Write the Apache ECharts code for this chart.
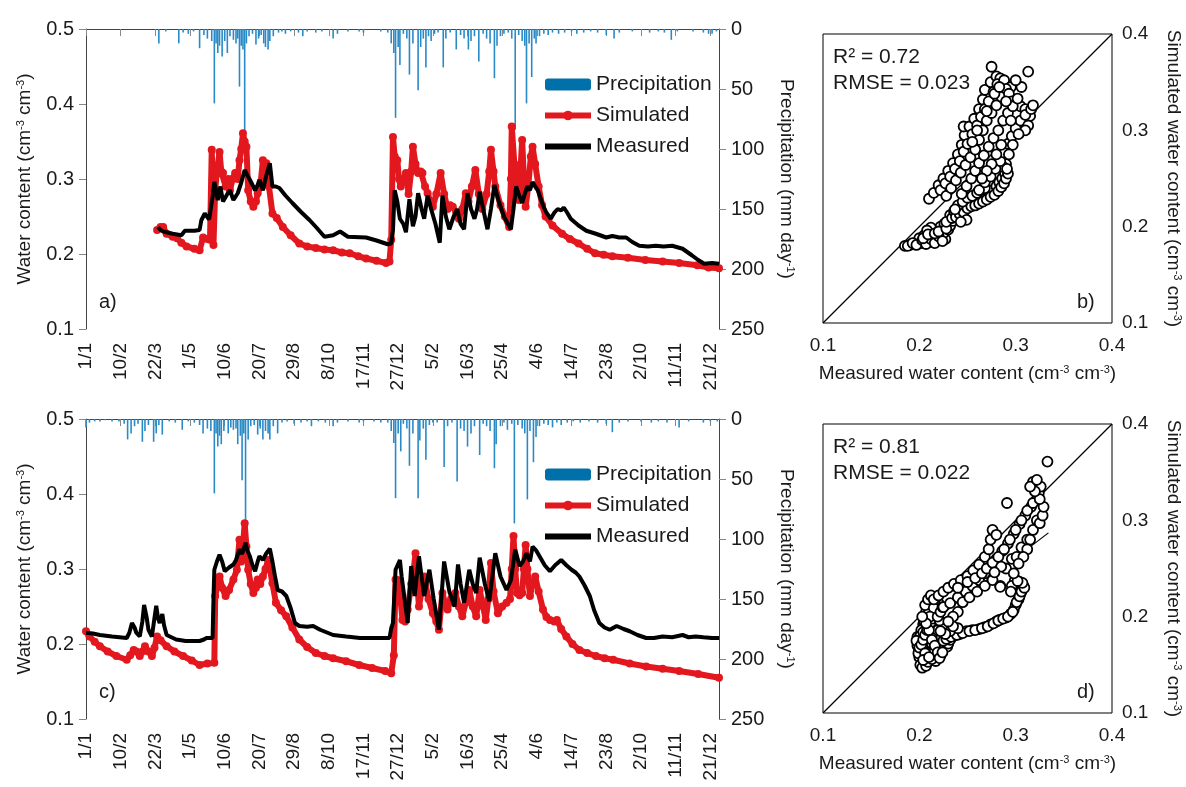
<!DOCTYPE html>
<html>
<head>
<meta charset="utf-8">
<script src="https://cdn.jsdelivr.net/npm/echarts@6/dist/echarts.min.js"></script>
<style>
  html, body { margin: 0; padding: 0; background: #fff; }
  #chart { width: 1186px; height: 787px; }
</style>
</head>
<body>
<div id="chart"></div>
<script>
// days since 1/1 of the first year, tick every 40 days
const tickDays = [0, 40, 80, 120, 160, 200, 240, 280, 320, 360, 400, 440, 480, 520, 560, 600, 640, 680, 720];
const dateLabels = ['1/1', '10/2', '22/3', '1/5', '10/6', '20/7', '29/8', '8/10', '17/11', '27/12',
	'5/2', '16/3', '25/4', '4/6', '14/7', '23/8', '2/10', '11/11', '21/12'];

// panel a : [day, mm]
const precipA = [
	[84, 12], [92, 2], [107, 12], [112, 3], [118, 4], [124, 2], [131, 16], [136, 5], [140, 8], [145, 10],
	[148, 62], [150, 12], [152, 20], [154, 14], [157, 23], [160, 10], [163, 20], [166, 6], [170, 9], [173, 12],
	[175, 8], [177, 48], [179, 14], [181, 17], [183, 87], [185, 12], [188, 6], [192, 4], [196, 13], [199, 8],
	[202, 5], [205, 12], [207, 15], [210, 17], [212, 10], [216, 6], [222, 3], [226, 2], [230, 4], [236, 2],
	[245, 3], [250, 6], [255, 2], [265, 3], [272, 2], [285, 8], [290, 4], [302, 2], [315, 2], [320, 3],
	[340, 2], [348, 3], [352, 12], [355, 20], [357, 74], [360, 15], [362, 30], [366, 4], [370, 8], [373, 38],
	[377, 12], [383, 51], [386, 15], [389, 8], [392, 32], [395, 6], [398, 10], [402, 4], [406, 3], [412, 32],
	[415, 8], [420, 3], [427, 17], [432, 5], [436, 8], [441, 17], [444, 10], [448, 6], [453, 27], [458, 4],
	[462, 8], [466, 12], [471, 41], [474, 14], [478, 6], [482, 4], [487, 3], [491, 8], [495, 84], [499, 5],
	[503, 10], [506, 14], [508, 62], [511, 12], [514, 40], [517, 8], [519, 12], [523, 6], [528, 4], [533, 5],
	[538, 3], [545, 4], [552, 3], [560, 2], [566, 4], [574, 3], [582, 2], [590, 3], [600, 5], [609, 8],
	[615, 3], [630, 2], [650, 3], [660, 2], [667, 3], [675, 9], [682, 2], [700, 2], [712, 3], [718, 4],
	[722, 4], [727, 2]
];
const measuredA = [
	[83, 0.236], [86, 0.232], [89, 0.230], [100, 0.227], [110, 0.225], [114, 0.231], [125, 0.231], [131, 0.232],
	[133, 0.245], [137, 0.254], [142, 0.246], [146, 0.276], [148, 0.296], [152, 0.272], [155, 0.290], [158, 0.270],
	[160, 0.268], [163, 0.280], [166, 0.285], [170, 0.272], [175, 0.281], [179, 0.295], [183, 0.312], [186, 0.305],
	[189, 0.299], [195, 0.285], [198, 0.292], [200, 0.299], [204, 0.285], [208, 0.305], [212, 0.321], [215, 0.290],
	[219, 0.290], [223, 0.288], [230, 0.278], [238, 0.268], [248, 0.256], [258, 0.245], [266, 0.235], [275, 0.223],
	[285, 0.225], [293, 0.230], [302, 0.223], [323, 0.222], [335, 0.218], [348, 0.213], [352, 0.214], [354, 0.232],
	[356, 0.285], [359, 0.270], [362, 0.247], [366, 0.240], [369, 0.229], [373, 0.273], [377, 0.237], [380, 0.250],
	[383, 0.281], [387, 0.260], [390, 0.247], [394, 0.278], [398, 0.260], [403, 0.240], [408, 0.215], [411, 0.278],
	[415, 0.250], [419, 0.233], [424, 0.250], [428, 0.260], [432, 0.240], [436, 0.233], [440, 0.281], [444, 0.260],
	[448, 0.247], [451, 0.260], [454, 0.283], [458, 0.260], [463, 0.233], [467, 0.260], [471, 0.292], [476, 0.270],
	[482, 0.250], [490, 0.233], [493, 0.260], [496, 0.290], [499, 0.280], [503, 0.268], [506, 0.280], [509, 0.290],
	[512, 0.285], [515, 0.296], [518, 0.290], [521, 0.285], [524, 0.275], [527, 0.265], [531, 0.255], [536, 0.247],
	[540, 0.255], [544, 0.260], [548, 0.258], [551, 0.262], [555, 0.255], [559, 0.247], [568, 0.238], [577, 0.231],
	[588, 0.227], [600, 0.222], [607, 0.224], [615, 0.222], [623, 0.222], [630, 0.216], [638, 0.211], [648, 0.210],
	[657, 0.211], [666, 0.210], [676, 0.211], [688, 0.207], [699, 0.198], [706, 0.192], [713, 0.187], [722, 0.188],
	[730, 0.187]
];
const simulatedA = [
	[82, 0.232], [86, 0.236], [89, 0.236], [93, 0.227], [100, 0.223], [105, 0.221], [110, 0.215], [116, 0.210],
	[125, 0.207], [131, 0.205], [135, 0.222], [140, 0.220], [143, 0.219], [145, 0.339], [146, 0.300], [147, 0.212],
	[149, 0.285], [151, 0.310], [154, 0.336], [156, 0.310], [158, 0.308], [161, 0.290], [164, 0.300], [166, 0.285],
	[169, 0.300], [172, 0.308], [175, 0.300], [177, 0.325], [179, 0.340], [181, 0.361], [183, 0.350], [185, 0.343],
	[187, 0.285], [190, 0.270], [193, 0.263], [196, 0.270], [198, 0.281], [201, 0.290], [204, 0.325], [206, 0.320],
	[208, 0.321], [211, 0.290], [215, 0.254], [220, 0.248], [227, 0.236], [236, 0.225], [246, 0.214], [255, 0.210],
	[265, 0.208], [275, 0.206], [285, 0.205], [295, 0.202], [304, 0.201], [314, 0.197], [323, 0.194], [335, 0.191],
	[346, 0.188], [350, 0.190], [352, 0.219], [354, 0.356], [356, 0.330], [359, 0.325], [361, 0.300], [363, 0.290],
	[366, 0.300], [369, 0.308], [372, 0.280], [375, 0.310], [377, 0.343], [380, 0.320], [383, 0.308], [386, 0.310],
	[388, 0.308], [391, 0.290], [394, 0.281], [397, 0.270], [400, 0.263], [404, 0.280], [409, 0.308], [413, 0.280],
	[417, 0.260], [420, 0.265], [423, 0.263], [427, 0.255], [430, 0.247], [434, 0.260], [438, 0.281], [441, 0.270],
	[445, 0.290], [449, 0.312], [453, 0.280], [457, 0.260], [462, 0.280], [465, 0.310], [467, 0.339], [470, 0.310],
	[472, 0.290], [478, 0.265], [483, 0.250], [488, 0.236], [490, 0.300], [491, 0.370], [494, 0.320], [497, 0.285],
	[499, 0.272], [501, 0.310], [503, 0.352], [505, 0.300], [507, 0.263], [510, 0.290], [513, 0.330], [515, 0.343],
	[518, 0.320], [522, 0.290], [526, 0.265], [530, 0.250], [538, 0.238], [549, 0.227], [558, 0.220], [568, 0.214],
	[578, 0.207], [587, 0.201], [597, 0.199], [607, 0.197], [625, 0.195], [645, 0.192], [665, 0.190], [684, 0.188],
	[705, 0.185], [718, 0.182], [730, 0.181]
];

// panel c
const precipC = [
	[0, 7], [4, 3], [10, 2], [16, 2], [22, 1], [30, 2], [38, 2], [44, 4], [48, 17], [52, 12],
	[56, 6], [60, 4], [65, 19], [68, 10], [72, 5], [78, 19], [81, 12], [84, 5], [88, 13], [96, 2],
	[103, 3], [111, 9], [118, 2], [125, 3], [131, 5], [135, 12], [140, 8], [144, 10], [148, 62], [150, 12],
	[152, 23], [154, 14], [156, 21], [159, 10], [164, 12], [167, 7], [170, 9], [173, 8], [175, 21], [178, 14],
	[180, 51], [182, 12], [184, 84], [187, 17], [190, 6], [194, 5], [198, 13], [201, 8], [204, 17], [207, 10],
	[210, 12], [212, 17], [216, 6], [221, 12], [226, 3], [232, 2], [240, 4], [248, 3], [255, 2], [260, 6],
	[268, 2], [276, 3], [285, 6], [290, 3], [302, 2], [315, 3], [320, 2], [332, 2], [340, 3], [348, 3],
	[352, 10], [355, 20], [357, 66], [360, 12], [363, 27], [366, 4], [370, 8], [373, 39], [377, 12], [383, 66],
	[385, 18], [389, 8], [392, 34], [396, 5], [400, 3], [405, 3], [413, 40], [417, 6], [422, 3], [428, 52],
	[432, 8], [436, 10], [440, 23], [444, 12], [448, 6], [454, 30], [458, 4], [462, 6], [466, 10], [471, 41],
	[473, 21], [478, 6], [482, 3], [486, 9], [491, 4], [494, 87], [498, 5], [503, 8], [506, 12], [509, 67],
	[512, 10], [516, 36], [519, 15], [523, 6], [528, 4], [533, 5], [538, 7], [543, 3], [548, 5], [555, 3],
	[562, 2], [570, 3], [580, 2], [590, 3], [600, 4], [607, 11], [615, 3], [625, 2], [640, 2], [652, 3],
	[660, 2], [670, 3], [684, 7], [695, 2], [712, 3], [720, 2], [728, 2]
];
const measuredC = [
	[0, 0.215], [8, 0.214], [16, 0.212], [30, 0.210], [47, 0.208], [50, 0.215], [53, 0.228], [56, 0.222],
	[58, 0.215], [62, 0.210], [65, 0.230], [67, 0.252], [70, 0.235], [72, 0.219], [76, 0.210], [79, 0.235],
	[81, 0.251], [83, 0.235], [85, 0.228], [88, 0.240], [90, 0.225], [93, 0.212], [104, 0.206], [115, 0.204],
	[131, 0.204], [136, 0.206], [139, 0.208], [146, 0.208], [147, 0.260], [148, 0.299], [151, 0.310], [154, 0.319],
	[157, 0.310], [160, 0.297], [165, 0.302], [170, 0.306], [173, 0.312], [177, 0.326], [180, 0.320], [184, 0.335],
	[186, 0.325], [189, 0.317], [192, 0.305], [195, 0.297], [198, 0.310], [200, 0.317], [204, 0.312], [208, 0.321],
	[212, 0.327], [215, 0.310], [218, 0.290], [221, 0.272], [226, 0.270], [231, 0.264], [236, 0.248], [241, 0.228],
	[246, 0.224], [255, 0.223], [262, 0.224], [270, 0.219], [285, 0.212], [300, 0.210], [316, 0.208], [335, 0.208],
	[350, 0.208], [352, 0.221], [354, 0.228], [357, 0.299], [362, 0.312], [364, 0.290], [367, 0.264], [371, 0.228],
	[375, 0.304], [379, 0.264], [384, 0.317], [387, 0.290], [390, 0.264], [396, 0.299], [401, 0.260], [407, 0.219],
	[413, 0.310], [419, 0.270], [425, 0.250], [429, 0.306], [432, 0.280], [436, 0.255], [442, 0.299], [446, 0.280],
	[450, 0.268], [454, 0.315], [460, 0.280], [465, 0.257], [472, 0.321], [478, 0.290], [485, 0.272], [490, 0.285],
	[495, 0.326], [500, 0.304], [504, 0.310], [508, 0.321], [512, 0.310], [515, 0.330], [519, 0.325], [523, 0.317],
	[529, 0.305], [535, 0.297], [541, 0.305], [548, 0.312], [554, 0.305], [560, 0.299], [565, 0.295], [569, 0.290],
	[575, 0.278], [581, 0.264], [586, 0.245], [592, 0.228], [598, 0.222], [604, 0.219], [612, 0.224], [620, 0.220],
	[627, 0.217], [636, 0.212], [646, 0.208], [655, 0.208], [665, 0.210], [676, 0.209], [688, 0.212], [695, 0.209],
	[703, 0.210], [712, 0.209], [722, 0.208], [730, 0.208]
];
const simulatedC = [
	[0, 0.217], [4, 0.210], [10, 0.203], [16, 0.197], [25, 0.190], [35, 0.184], [47, 0.179], [51, 0.185],
	[55, 0.192], [58, 0.190], [62, 0.184], [65, 0.190], [68, 0.197], [72, 0.190], [76, 0.184], [79, 0.195],
	[82, 0.210], [86, 0.205], [93, 0.197], [102, 0.190], [112, 0.184], [122, 0.178], [131, 0.172], [140, 0.174],
	[148, 0.175], [149, 0.264], [152, 0.280], [154, 0.290], [157, 0.275], [161, 0.264], [165, 0.272], [170, 0.286],
	[174, 0.299], [177, 0.339], [179, 0.310], [181, 0.330], [183, 0.361], [185, 0.330], [187, 0.299], [190, 0.280],
	[193, 0.268], [196, 0.275], [198, 0.286], [201, 0.280], [204, 0.290], [207, 0.300], [210, 0.312], [212, 0.300],
	[215, 0.281], [219, 0.255], [225, 0.245], [231, 0.237], [238, 0.222], [246, 0.206], [255, 0.196], [265, 0.188],
	[275, 0.184], [285, 0.181], [300, 0.177], [315, 0.172], [330, 0.168], [345, 0.164], [352, 0.161], [355, 0.185],
	[357, 0.286], [360, 0.285], [362, 0.268], [365, 0.232], [368, 0.230], [371, 0.246], [375, 0.280], [378, 0.300],
	[380, 0.321], [382, 0.280], [384, 0.250], [387, 0.270], [390, 0.290], [395, 0.260], [400, 0.241], [404, 0.230],
	[407, 0.219], [411, 0.268], [414, 0.255], [417, 0.246], [421, 0.260], [426, 0.268], [430, 0.250], [434, 0.237],
	[438, 0.255], [442, 0.272], [446, 0.250], [450, 0.237], [454, 0.272], [458, 0.250], [461, 0.232], [464, 0.260],
	[467, 0.308], [470, 0.270], [475, 0.241], [480, 0.250], [485, 0.255], [489, 0.260], [491, 0.300], [493, 0.344],
	[495, 0.300], [497, 0.268], [500, 0.265], [503, 0.268], [505, 0.300], [507, 0.332], [509, 0.300], [512, 0.264],
	[515, 0.280], [518, 0.290], [522, 0.270], [527, 0.246], [531, 0.236], [535, 0.232], [540, 0.230], [543, 0.232],
	[548, 0.220], [554, 0.210], [561, 0.200], [569, 0.192], [578, 0.188], [588, 0.184], [598, 0.181], [608, 0.179],
	[627, 0.174], [646, 0.170], [665, 0.167], [684, 0.164], [706, 0.160], [730, 0.155]
];

// scatter b : [measured, simulated]
const scatterB = [
	[0.185, 0.180], [0.19, 0.181], [0.195, 0.182], [0.198, 0.184], [0.202, 0.183], [0.206, 0.185], [0.21, 0.184],
	[0.214, 0.186], [0.218, 0.185], [0.222, 0.187], [0.227, 0.187], [0.2, 0.188], [0.205, 0.191], [0.21, 0.19],
	[0.214, 0.194], [0.218, 0.197], [0.222, 0.2], [0.226, 0.203], [0.212, 0.199], [0.208, 0.196], [0.225, 0.193],
	[0.23, 0.197], [0.232, 0.201], [0.235, 0.206], [0.232, 0.212],
	[0.188, 0.18], [0.193, 0.183], [0.197, 0.181], [0.203, 0.186], [0.207, 0.182], [0.212, 0.187], [0.216, 0.183],
	[0.22, 0.19], [0.224, 0.185], [0.204, 0.188], [0.209, 0.192], [0.216, 0.193], [0.22, 0.195], [0.228, 0.198],
	[0.228, 0.205], [0.234, 0.209], [0.24, 0.214], [0.236, 0.216], [0.244, 0.219], [0.248, 0.222], [0.252, 0.225],
	[0.256, 0.227], [0.26, 0.229], [0.264, 0.231], [0.268, 0.234], [0.272, 0.236], [0.276, 0.238], [0.28, 0.242],
	[0.283, 0.246], [0.286, 0.25], [0.289, 0.255], [0.29, 0.265], [0.287, 0.262],
	[0.238, 0.21], [0.242, 0.213], [0.246, 0.215], [0.249, 0.207], [0.25, 0.219], [0.254, 0.221], [0.258, 0.222],
	[0.262, 0.224], [0.266, 0.226], [0.27, 0.228], [0.274, 0.231], [0.278, 0.233], [0.282, 0.237], [0.285, 0.241],
	[0.288, 0.245], [0.29, 0.25], [0.292, 0.255], [0.291, 0.26], [0.24, 0.222], [0.245, 0.226], [0.25, 0.23],
	[0.255, 0.232], [0.26, 0.235], [0.264, 0.238], [0.268, 0.24], [0.243, 0.205], [0.237, 0.218],
	[0.21, 0.229], [0.215, 0.235], [0.22, 0.243], [0.225, 0.25], [0.23, 0.258], [0.235, 0.266], [0.24, 0.275],
	[0.244, 0.285], [0.247, 0.295], [0.246, 0.304], [0.252, 0.304], [0.257, 0.312], [0.262, 0.322], [0.266, 0.332],
	[0.268, 0.342], [0.274, 0.35], [0.28, 0.356], [0.275, 0.366], [0.284, 0.354],
	[0.222, 0.238], [0.227, 0.245], [0.232, 0.252], [0.237, 0.26], [0.242, 0.268], [0.246, 0.278], [0.25, 0.286],
	[0.255, 0.296], [0.26, 0.305], [0.264, 0.314], [0.268, 0.322], [0.272, 0.33], [0.277, 0.34], [0.281, 0.348],
	[0.288, 0.352], [0.295, 0.345], [0.305, 0.325], [0.31, 0.322], [0.315, 0.315],
	[0.228, 0.232], [0.233, 0.24], [0.238, 0.248], [0.243, 0.256], [0.248, 0.264], [0.253, 0.272], [0.258, 0.28],
	[0.262, 0.29], [0.266, 0.3], [0.27, 0.31], [0.275, 0.318], [0.28, 0.326], [0.285, 0.335], [0.29, 0.343],
	[0.293, 0.338], [0.296, 0.33],
	[0.244, 0.234], [0.249, 0.242], [0.254, 0.25], [0.258, 0.258], [0.262, 0.266], [0.267, 0.274], [0.272, 0.283],
	[0.277, 0.292], [0.282, 0.3], [0.287, 0.31], [0.292, 0.318], [0.297, 0.325], [0.302, 0.333], [0.306, 0.345],
	[0.3, 0.352],
	[0.262, 0.238], [0.268, 0.246], [0.274, 0.252], [0.279, 0.26], [0.284, 0.268], [0.288, 0.277], [0.292, 0.286],
	[0.296, 0.294], [0.3, 0.302], [0.305, 0.31], [0.31, 0.316], [0.316, 0.322], [0.318, 0.326], [0.313, 0.305],
	[0.31, 0.3], [0.303, 0.296], [0.297, 0.285], [0.293, 0.275], [0.313, 0.361],
	[0.255, 0.288], [0.26, 0.3], [0.27, 0.32], [0.278, 0.338], [0.283, 0.345], [0.29, 0.33], [0.295, 0.31],
	[0.285, 0.285], [0.28, 0.275], [0.275, 0.265], [0.27, 0.258], [0.265, 0.25]
];

// scatter d
const scatterD = [
	[0.205, 0.152], [0.208, 0.156], [0.204, 0.16], [0.2, 0.165], [0.198, 0.17], [0.2, 0.175], [0.198, 0.179],
	[0.202, 0.182], [0.205, 0.178], [0.208, 0.17], [0.21, 0.165], [0.212, 0.16], [0.215, 0.158], [0.218, 0.159],
	[0.22, 0.162], [0.222, 0.166], [0.225, 0.168], [0.229, 0.169], [0.21, 0.175], [0.212, 0.18], [0.215, 0.185],
	[0.207, 0.188], [0.204, 0.192], [0.206, 0.198], [0.209, 0.204], [0.211, 0.21], [0.213, 0.214], [0.216, 0.19],
	[0.22, 0.18], [0.218, 0.172], [0.214, 0.168], [0.202, 0.186], [0.2, 0.158], [0.215, 0.2], [0.218, 0.205],
	[0.201, 0.15], [0.203, 0.147], [0.207, 0.149], [0.209, 0.153], [0.206, 0.157], [0.203, 0.163], [0.201, 0.168],
	[0.205, 0.167], [0.207, 0.173], [0.203, 0.174], [0.199, 0.177], [0.201, 0.18], [0.204, 0.184], [0.208, 0.182],
	[0.211, 0.178], [0.213, 0.172], [0.216, 0.165], [0.219, 0.168], [0.221, 0.172], [0.217, 0.178], [0.214, 0.182],
	[0.212, 0.188], [0.209, 0.192], [0.208, 0.2], [0.21, 0.196], [0.213, 0.206], [0.212, 0.212], [0.214, 0.195],
	[0.219, 0.186], [0.223, 0.178], [0.226, 0.172], [0.222, 0.16], [0.217, 0.154], [0.213, 0.156], [0.2, 0.172],
	[0.197, 0.175], [0.205, 0.195], [0.207, 0.205], [0.21, 0.207], [0.206, 0.212], [0.209, 0.218], [0.212, 0.222],
	[0.199, 0.162], [0.2, 0.168], [0.202, 0.171], [0.204, 0.176], [0.206, 0.181], [0.208, 0.186], [0.21, 0.19],
	[0.212, 0.194], [0.214, 0.198], [0.216, 0.203], [0.218, 0.209], [0.22, 0.214], [0.217, 0.212], [0.215, 0.209],
	[0.211, 0.2], [0.21, 0.186], [0.213, 0.176], [0.216, 0.17], [0.219, 0.163], [0.221, 0.157], [0.224, 0.163],
	[0.227, 0.174], [0.23, 0.172], [0.232, 0.176], [0.226, 0.18], [0.224, 0.19], [0.221, 0.196], [0.219, 0.2],
	[0.222, 0.205], [0.224, 0.21], [0.206, 0.162], [0.204, 0.155], [0.21, 0.158], [0.207, 0.193], [0.203, 0.2],
	[0.225, 0.175], [0.23, 0.178], [0.236, 0.18], [0.242, 0.182], [0.249, 0.185], [0.255, 0.186], [0.262, 0.187],
	[0.268, 0.189], [0.274, 0.192], [0.28, 0.195], [0.284, 0.197], [0.29, 0.199], [0.295, 0.203], [0.298, 0.207],
	[0.3, 0.212], [0.303, 0.218], [0.305, 0.224], [0.307, 0.229], [0.308, 0.232], [0.304, 0.236], [0.299, 0.237],
	[0.296, 0.232], [0.295, 0.226],
	[0.228, 0.177], [0.233, 0.179], [0.239, 0.181], [0.245, 0.183], [0.252, 0.185], [0.258, 0.186], [0.265, 0.188],
	[0.271, 0.19], [0.277, 0.193], [0.282, 0.196], [0.287, 0.198], [0.292, 0.2], [0.297, 0.205], [0.301, 0.215],
	[0.304, 0.221], [0.306, 0.226], [0.309, 0.23], [0.307, 0.235], [0.302, 0.237], [0.232, 0.185], [0.24, 0.188],
	[0.227, 0.182], [0.222, 0.185], [0.235, 0.19],
	[0.215, 0.218], [0.22, 0.222], [0.225, 0.226], [0.23, 0.23], [0.236, 0.234], [0.243, 0.238], [0.25, 0.242],
	[0.256, 0.248], [0.262, 0.254], [0.268, 0.262], [0.272, 0.27], [0.274, 0.28], [0.276, 0.29], [0.291, 0.318],
	[0.28, 0.285],
	[0.225, 0.21], [0.232, 0.214], [0.24, 0.22], [0.248, 0.226], [0.255, 0.232], [0.262, 0.238], [0.268, 0.245],
	[0.274, 0.252], [0.28, 0.26], [0.286, 0.268], [0.292, 0.276], [0.298, 0.286], [0.304, 0.296], [0.31, 0.305],
	[0.316, 0.314], [0.322, 0.322],
	[0.24, 0.23], [0.25, 0.236], [0.258, 0.24], [0.265, 0.245], [0.27, 0.25], [0.276, 0.256], [0.282, 0.262],
	[0.288, 0.27], [0.294, 0.28], [0.3, 0.29], [0.306, 0.3], [0.312, 0.31], [0.318, 0.318], [0.324, 0.328],
	[0.326, 0.335], [0.318, 0.34],
	[0.245, 0.215], [0.252, 0.22], [0.26, 0.226], [0.268, 0.232], [0.276, 0.238], [0.284, 0.232], [0.29, 0.25],
	[0.296, 0.26], [0.301, 0.262], [0.306, 0.272], [0.312, 0.28], [0.315, 0.28], [0.318, 0.29], [0.322, 0.3],
	[0.325, 0.297], [0.328, 0.305], [0.329, 0.314], [0.325, 0.322], [0.32, 0.33], [0.315, 0.335], [0.322, 0.342],
	[0.333, 0.361], [0.312, 0.27], [0.308, 0.262], [0.303, 0.255], [0.298, 0.245], [0.285, 0.252], [0.278, 0.246],
	[0.284, 0.231], [0.24, 0.205], [0.235, 0.2], [0.23, 0.195]
];

const oneToOne = [[0.1, 0.1], [0.4, 0.4]];
const fitD = [[0.22, 0.2], [0.334, 0.287]];

const FONT = '"Liberation Sans", Arial, Helvetica, sans-serif';
const TXT = '#1a1a1a';
const supRich = { s: { fontSize: 11, verticalAlign: 'top', fontFamily: FONT, color: TXT } };
const waterName = 'Water content (cm{s|-3} cm{s|-3})';
const precipName = 'Precipitation (mm day{s|-1})';

function timeXAxis( grid ) {
	return {
		type: 'value', gridIndex: grid, min: 0, max: 730, interval: 40,
		axisLine: { lineStyle: { color: '#444', width: 1 } },
		axisTick: { customValues: tickDays, length: 7, lineStyle: { color: '#888' } },
		splitLine: { show: false },
		axisLabel: {
			customValues: tickDays, rotate: 90, margin: 14, fontSize: 19, fontFamily: FONT, color: TXT,
			formatter: v => dateLabels[Math.round( v / 40 )] || ''
		}
	};
}
function waterYAxis( grid ) {
	return {
		type: 'value', gridIndex: grid, position: 'left', min: 0.1, max: 0.5, interval: 0.1,
		name: waterName, nameLocation: 'middle', nameRotate: 90, nameGap: 52,
		nameTextStyle: { fontSize: 19, fontFamily: FONT, color: TXT, rich: supRich },
		axisLine: { show: true, lineStyle: { color: '#444' } },
		axisTick: { show: true, length: 7, lineStyle: { color: '#888' } },
		splitLine: { show: false },
		axisLabel: { margin: 12, fontSize: 20, fontFamily: FONT, color: TXT, formatter: v => v.toFixed( 1 ) }
	};
}
function precipYAxis( grid ) {
	return {
		type: 'value', gridIndex: grid, position: 'right', min: 0, max: 250, interval: 50, inverse: true,
		name: precipName, nameLocation: 'middle', nameRotate: -90, nameGap: 58,
		nameTextStyle: { fontSize: 19, fontFamily: FONT, color: TXT, rich: supRich },
		axisLine: { show: true, lineStyle: { color: '#444' } },
		axisTick: { show: true, length: 7, lineStyle: { color: '#888' } },
		splitLine: { show: false },
		axisLabel: { margin: 12, fontSize: 20, fontFamily: FONT, color: TXT }
	};
}
function scatterXAxis( grid ) {
	return {
		type: 'value', gridIndex: grid, min: 0.1, max: 0.4, interval: 0.1,
		name: 'Measured water content (cm{s|-3} cm{s|-3})', nameLocation: 'middle', nameGap: 41,
		nameTextStyle: { fontSize: 19, fontFamily: FONT, color: TXT, rich: supRich },
		axisLine: { show: false }, axisTick: { show: false }, splitLine: { show: false },
		axisLabel: { margin: 13, fontSize: 19, fontFamily: FONT, color: TXT, formatter: v => v.toFixed( 1 ) }
	};
}
function scatterYAxis( grid ) {
	return {
		type: 'value', gridIndex: grid, position: 'right', min: 0.1, max: 0.4, interval: 0.1,
		name: 'Simulated water content (cm{s|-3} cm{s|-3})', nameLocation: 'middle', nameRotate: -90, nameGap: 52,
		nameTextStyle: { fontSize: 19, fontFamily: FONT, color: TXT, rich: supRich },
		axisLine: { show: false }, axisTick: { show: false }, splitLine: { show: false },
		axisLabel: { margin: 10, fontSize: 19, fontFamily: FONT, color: TXT, formatter: v => v.toFixed( 1 ) }
	};
}
function precipSeries( xi, yi, data ) {
	return {
		name: 'Precipitation', type: 'bar', xAxisIndex: xi, yAxisIndex: yi, data,
		barWidth: 1.6, itemStyle: { color: '#2a8ac6' }, z: 1
	};
}
function simSeries( xi, yi, data ) {
	return {
		name: 'Simulated', type: 'line', xAxisIndex: xi, yAxisIndex: yi, data,
		showSymbol: true, symbol: 'circle', symbolSize: 8,
		lineStyle: { color: '#e3181f', width: 6 }, itemStyle: { color: '#e3181f' }, z: 2
	};
}
function measSeries( xi, yi, data ) {
	return {
		name: 'Measured', type: 'line', xAxisIndex: xi, yAxisIndex: yi, data,
		showSymbol: false, symbol: 'none',
		lineStyle: { color: '#000', width: 4 }, itemStyle: { color: '#000' }, z: 3
	};
}
function scatterSeries( xi, yi, data ) {
	return {
		type: 'scatter', xAxisIndex: xi, yAxisIndex: yi, data, symbolSize: 10,
		itemStyle: { color: '#fff', borderColor: '#000', borderWidth: 1.8, opacity: 1 }, z: 3
	};
}
function lineSeries( xi, yi, data ) {
	return {
		type: 'line', xAxisIndex: xi, yAxisIndex: yi, data, symbol: 'none',
		lineStyle: { color: '#000', width: 1.2 }, z: 2
	};
}
function legendAt( top ) {
	return {
		orient: 'vertical', left: 537, top, itemWidth: 46, itemHeight: 12, itemGap: 10,
		textStyle: { fontSize: 21, fontFamily: FONT, color: TXT },
		data: [
			{ name: 'Precipitation', itemStyle: { color: '#0070aa' } },
			{ name: 'Simulated', lineStyle: { width: 6 } },
			{ name: 'Measured', icon: 'path://M0,0H46V6H0Z' }
		]
	};
}
function label( left, top, text, size ) {
	return { type: 'text', left, top, style: { text, fontSize: size || 20, fontFamily: FONT, fill: TXT } };
}

const chart = echarts.init( document.getElementById( 'chart' ), null, { renderer: 'canvas' } );
chart.setOption( {
	animation: false,
	backgroundColor: '#fff',
	grid: [
		{ left: 86, top: 29, width: 633, height: 300 },
		{ left: 823, top: 34, width: 289, height: 289, show: true, borderColor: '#000', borderWidth: 1 },
		{ left: 86, top: 419, width: 633, height: 300 },
		{ left: 823, top: 424, width: 289, height: 289, show: true, borderColor: '#000', borderWidth: 1 }
	],
	xAxis: [ timeXAxis( 0 ), scatterXAxis( 1 ), timeXAxis( 2 ), scatterXAxis( 3 ) ],
	yAxis: [ waterYAxis( 0 ), precipYAxis( 0 ), scatterYAxis( 1 ), waterYAxis( 2 ), precipYAxis( 2 ), scatterYAxis( 3 ) ],
	legend: [ legendAt( 69 ), legendAt( 459 ) ],
	series: [
		precipSeries( 0, 1, precipA ), simSeries( 0, 0, simulatedA ), measSeries( 0, 0, measuredA ),
		lineSeries( 1, 2, oneToOne ), scatterSeries( 1, 2, scatterB ),
		precipSeries( 2, 4, precipC ), simSeries( 2, 3, simulatedC ), measSeries( 2, 3, measuredC ),
		lineSeries( 3, 5, oneToOne ), lineSeries( 3, 5, fitD ), scatterSeries( 3, 5, scatterD )
	],
	graphic: [
		label( 99, 292, 'a)' ), label( 1077, 292, 'b)' ),
		label( 99, 682, 'c)' ), label( 1077, 682, 'd)' ),
		label( 833, 47, 'R² = 0.72', 21 ), label( 833, 73, 'RMSE = 0.023', 21 ),
		label( 833, 437, 'R² = 0.81', 21 ), label( 833, 463, 'RMSE = 0.022', 21 )
	]
} );
</script>
</body>
</html>
